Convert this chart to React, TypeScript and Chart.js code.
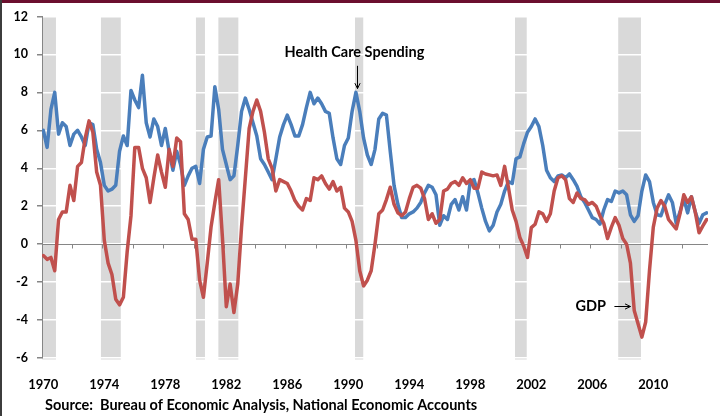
import React, { useEffect, useRef } from "react";
import { Chart, registerables } from "chart.js";

Chart.register(...registerables);

// Quarterly growth rates (%), starting 1970 Q1
const START_YEAR = 1970;

const healthCareSpending = [
  6.0, 5.1, 7.1, 8.0, 5.8, 6.4, 6.2, 5.2, 5.8, 6.0, 5.65, 5.2, 6.4, 6.3, 5.0, 4.3,
  3.1, 2.8, 2.9, 3.1, 4.9, 5.7, 5.2, 8.1, 7.6, 7.2, 8.9, 6.4, 5.65, 6.6, 6.2, 5.2,
  6.1, 4.9, 3.9, 4.9, 4.2, 3.1, 3.6, 4.0, 4.1, 3.2, 5.0, 5.65, 5.7, 8.3, 7.1, 5.0,
  4.2, 3.4, 3.6, 5.2, 7.0, 7.7, 7.1, 6.4, 5.7, 4.5, 4.2, 3.8, 3.4, 4.5, 5.65, 6.3,
  6.8, 6.3, 5.7, 5.7, 6.3, 7.2, 8.0, 7.4, 7.7, 7.4, 7.0, 6.9, 5.6, 4.5, 4.2, 5.2,
  5.6, 7.0, 8.0, 7.0, 5.6, 4.7, 4.2, 5.0, 6.6, 6.9, 6.8, 4.9, 3.1, 2.1, 1.4, 1.4,
  1.6, 1.7, 1.9, 2.2, 2.7, 3.1, 3.0, 2.6, 1.0, 1.5, 1.3, 2.1, 2.35, 1.8, 2.5, 1.8,
  3.3, 3.4, 2.7, 1.9, 1.2, 0.7, 1.0, 1.7, 2.1, 2.8, 3.3, 3.2, 4.5, 4.6, 5.3, 5.9,
  6.2, 6.6, 6.2, 5.2, 3.9, 3.5, 3.3, 3.6, 3.65, 3.5, 3.7, 3.4, 3.05, 2.5, 2.2, 1.8,
  1.4, 1.3, 1.05, 1.8, 2.35, 2.25, 2.8, 2.7, 2.8, 2.6, 1.55, 1.2, 1.5, 2.8, 3.65, 3.3,
  2.2, 1.55, 1.5, 2.1, 2.6, 2.2, 1.1, 1.7, 2.4, 1.65, 2.5, 1.7, 1.1, 1.55, 1.65,
];

const gdpGrowth = [
  -0.6, -0.8, -0.7, -1.4, 1.3, 1.7, 1.7, 3.1, 2.3, 4.1, 4.3, 5.6, 6.5, 5.9, 3.8, 3.1,
  0.2, -1.0, -1.6, -2.9, -3.2, -2.8, -0.4, 1.5, 5.1, 5.1, 4.0, 3.5, 2.2, 3.5, 4.7, 3.8,
  3.0, 5.0, 4.1, 5.6, 5.4, 1.6, 1.3, 0.26, 0.26, -1.9, -2.8, -1.0, 0.9, 2.2, 3.4, 0.3,
  -3.3, -2.1, -3.6, -2.1, 0.9, 3.5, 6.1, 7.0, 7.6, 7.0, 5.9, 4.5, 4.0, 2.8, 3.4, 3.3,
  3.2, 2.8, 2.3, 2.0, 1.8, 2.4, 2.3, 3.5, 3.4, 3.6, 3.2, 2.9, 3.3, 2.8, 3.0, 1.9,
  1.7, 1.2, 0.2, -1.4, -2.2, -1.9, -1.4, 0.0, 1.6, 1.8, 2.35, 3.0, 2.1, 1.65, 1.5, 1.7,
  2.4, 3.0, 3.1, 2.95, 2.4, 1.3, 1.6, 1.1, 1.3, 2.8, 2.9, 3.2, 3.3, 3.1, 3.5, 3.2,
  3.4, 2.95, 2.95, 3.8, 3.7, 3.65, 3.6, 3.65, 3.1, 4.1, 3.0, 1.8, 1.2, 0.35, -0.1, -0.7,
  0.87, 1.05, 1.7, 1.6, 1.2, 1.6, 2.8, 3.5, 3.6, 3.4, 2.4, 2.2, 2.7, 2.4, 2.35, 2.1,
  2.2, 2.0, 1.5, 1.1, 0.3, 0.9, 1.4, 1.0, 0.3, 0.0, -1.0, -3.5, -4.2, -4.9, -4.1, -1.4,
  0.9, 1.9, 2.3, 2.0, 1.3, 1.05, 0.8, 1.6, 2.6, 2.2, 2.5, 1.7, 0.6, 0.96, 1.3,
];

// Recession periods (fractional years)
const recessionStarts = [1969.93, 1973.78, 1980.01, 1981.48, 1990.44, 2000.93, 2007.7];
const recessionEnds = [1970.83, 1975.08, 1980.6, 1982.79, 1990.98, 2001.7, 2009.19];

// Axis labels
const xTickYears = [1970, 1974, 1978, 1982, 1986, 1990, 1994, 1998, 2002, 2006, 2010];
const yTickMin = -6;
const yTickMax = 12;
const yTickStep = 2;

const FONT = "Lato, 'Open Sans', sans-serif";

export default function App() {
  const canvasRef = useRef<HTMLCanvasElement | null>(null);

  useEffect(() => {
    const canvas = canvasRef.current;
    if (!canvas) return;

    const toPoints = (arr: number[]) =>
      arr.map((v, i) => ({ x: START_YEAR + i / 4, y: v }));

    const xMin = 1969.915;
    const xMax = 2013.587;

    const recessionPlugin = {
      id: "recessionBars",
      beforeDraw(chart: any) {
        const { ctx, chartArea, scales } = chart;
        const x = scales.x;
        ctx.save();
        ctx.fillStyle = "#d9d9d9";
        for (let i = 0; i < recessionStarts.length; i++) {
          const x0 = x.getPixelForValue(recessionStarts[i]);
          const x1 = x.getPixelForValue(recessionEnds[i]);
          ctx.fillRect(x0, chartArea.top, x1 - x0, chartArea.bottom - chartArea.top + 1.5);
        }
        ctx.restore();
      },
    };

    const zeroAxisPlugin = {
      id: "zeroAxis",
      beforeDatasetsDraw(chart: any) {
        const { ctx, chartArea, scales } = chart;
        const y0 = Math.round(scales.y.getPixelForValue(0)) + 0.5;
        ctx.save();
        ctx.strokeStyle = "#868686";
        ctx.lineWidth = 1;
        ctx.beginPath();
        ctx.moveTo(chartArea.left, y0);
        ctx.lineTo(chartArea.right, y0);
        const ticks: number[] = [];
        for (let t = 1971.875; t < xMax; t += 2) ticks.push(t);
        for (const t of ticks) {
          const px = Math.round(scales.x.getPixelForValue(t)) + 0.5;
          ctx.moveTo(px, y0);
          ctx.lineTo(px, y0 + 4);
        }
        ctx.stroke();
        ctx.restore();
      },
    };

    const drawArrow = (ctx: CanvasRenderingContext2D, x1: number, y1: number, x2: number, y2: number) => {
      const ang = Math.atan2(y2 - y1, x2 - x1);
      const h = 6;
      ctx.beginPath();
      ctx.moveTo(x1, y1);
      ctx.lineTo(x2, y2);
      ctx.moveTo(x2 - h * Math.cos(ang - 0.45), y2 - h * Math.sin(ang - 0.45));
      ctx.lineTo(x2, y2);
      ctx.lineTo(x2 - h * Math.cos(ang + 0.45), y2 - h * Math.sin(ang + 0.45));
      ctx.stroke();
    };

    const overlayPlugin = {
      id: "overlay",
      afterDraw(chart: any) {
        const { ctx, scales } = chart;
        const x = scales.x;
        const y = scales.y;
        ctx.save();
        ctx.fillStyle = "#000";
        ctx.strokeStyle = "#000";
        ctx.lineWidth = 1;
        ctx.font = `bold 14.5px ${FONT}`;
        ctx.textBaseline = "middle";

        // Health Care Spending annotation
        ctx.textAlign = "center";
        ctx.fillText("Health Care Spending", x.getPixelForValue(1990.4), y.getPixelForValue(10.1));
        const ax = Math.round(x.getPixelForValue(1990.55)) + 0.5;
        drawArrow(ctx, ax, y.getPixelForValue(9.4), ax, y.getPixelForValue(8.2));

        // GDP annotation
        ctx.textAlign = "right";
        const gy = Math.round(y.getPixelForValue(-3.25)) + 0.5;
        ctx.fillText("GDP", x.getPixelForValue(2006.9), gy);
        drawArrow(ctx, x.getPixelForValue(2007.45), gy, x.getPixelForValue(2008.5), gy);

        // Source
        ctx.textAlign = "left";
        ctx.font = `bold 14.5px ${FONT}`;
        ctx.fillText("Source:  Bureau of Economic Analysis, National Economic Accounts", 45, 405);

        // Frame
        ctx.fillStyle = "#6b0f2e";
        ctx.fillRect(0, 0, chart.width, 3);
        ctx.fillStyle = "#3c3c3c";
        ctx.fillRect(0, 0, 2, chart.height);
        ctx.restore();
      },
    };

    const chart = new Chart(canvas, {
      type: "line",
      data: {
        datasets: [
          {
            label: "GDP",
            data: toPoints(gdpGrowth),
            borderColor: "#c0504d",
            backgroundColor: "#c0504d",
            borderWidth: 3.5,
            pointRadius: 0,
            tension: 0,
            borderJoinStyle: "round",
            borderCapStyle: "round",
          },
          {
            label: "Health Care Spending",
            data: toPoints(healthCareSpending),
            borderColor: "#4a7ebb",
            backgroundColor: "#4a7ebb",
            borderWidth: 3.5,
            pointRadius: 0,
            tension: 0,
            borderJoinStyle: "round",
            borderCapStyle: "round",
          },
        ],
      },
      options: {
        responsive: false,
        animation: false,
        devicePixelRatio: 1,
        layout: { padding: { top: 13, right: 12, bottom: 0, left: 0 } },
        plugins: {
          legend: { display: false },
          tooltip: { enabled: false },
          title: { display: false },
        },
        scales: {
          x: {
            type: "linear",
            position: "bottom",
            min: xMin,
            max: xMax,
            grid: { display: false },
            border: { display: false },
            afterBuildTicks: (scale: any) => {
              scale.ticks = xTickYears.map((v) => ({ value: v }));
            },
            afterFit: (scale: any) => {
              scale.height = 58;
            },
            ticks: {
              autoSkip: false,
              maxRotation: 0,
              padding: 11,
              color: "#000",
              font: { family: FONT, size: 13, weight: "bold" },
              callback: (v: any) => String(v),
            },
          },
          y: {
            min: yTickMin,
            max: yTickMax,
            afterFit: (scale: any) => {
              scale.width = 42;
            },
            grid: {
              color: "#ffffff",
              lineWidth: 1.5,
              tickColor: "#868686",
              tickLength: 5,
              drawTicks: true,
            },
            border: { display: true, color: "#868686", width: 1 },
            ticks: {
              stepSize: yTickStep,
              padding: 9,
              color: "#000",
              font: { family: FONT, size: 12.5, weight: "bold" },
            },
          },
        },
      },
      plugins: [recessionPlugin, zeroAxisPlugin, overlayPlugin],
    } as any);

    return () => chart.destroy();
  }, []);

  return (
    <div style={{ position: "fixed", left: 0, top: 0, width: 720, height: 416, background: "#fff" }}>
      <canvas ref={canvasRef} width={720} height={416} style={{ display: "block" }} />
    </div>
  );
}
